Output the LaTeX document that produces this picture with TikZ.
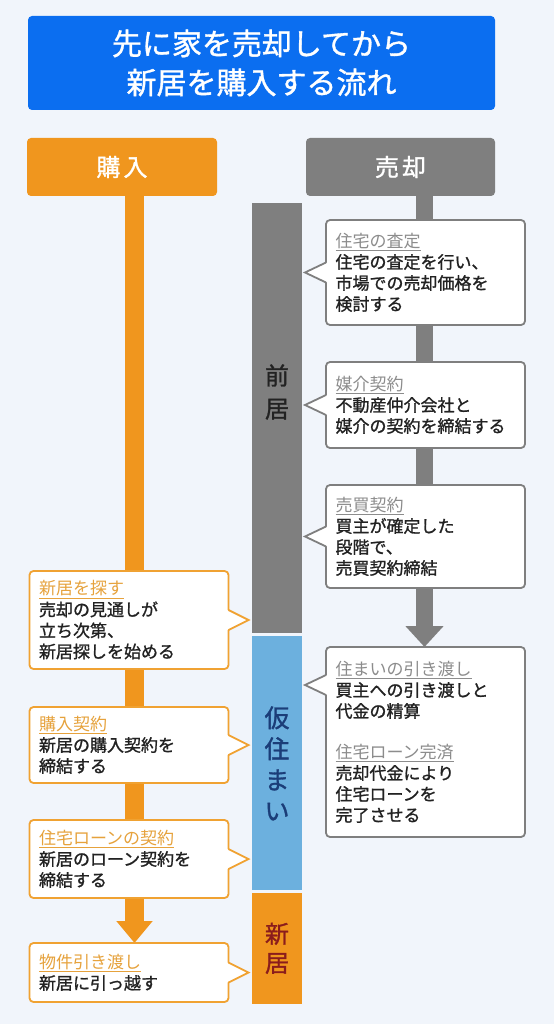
\documentclass[tikz,border=0pt]{standalone}
\usepackage{fontspec}
\setmainfont{Noto Sans CJK JP}[FakeBold=1.2]
\newfontfamily\plainJp{Noto Sans CJK JP}
\usepackage{tikz}
\usetikzlibrary{positioning,arrows.meta}
\definecolor{pageBg}{HTML}{F1F5FB}
\definecolor{titleBlue}{HTML}{0B6EF0}
\definecolor{buyOrange}{HTML}{F0961E}
\definecolor{sellGray}{HTML}{7F7F7F}
\definecolor{tempBlue}{HTML}{6CB0DE}
\definecolor{tempText}{HTML}{1B3D78}
\definecolor{newText}{HTML}{8A1C1C}
\definecolor{boxText}{HTML}{222222}
\definecolor{grayHead}{HTML}{8C8C8C}
\definecolor{orangeHead}{HTML}{E6A23C}
\definecolor{orangeLine}{HTML}{F0A232}
\pgfdeclarelayer{background}
\pgfsetlayers{background,main}
\tikzstyle{titleBox}=[rectangle, fill=titleBlue, rounded corners=4pt, minimum width=467pt, minimum height=94pt, text=white, align=center, font=\fontsize{30}{39}\selectfont]
\tikzstyle{header}=[rectangle, rounded corners=4pt, text=white, minimum width=190pt, minimum height=58pt, inner sep=0, font=\fontsize{24}{28}\selectfont]
\tikzstyle{period}=[rectangle, minimum width=50pt, inner sep=0, align=center]
\tikzstyle{sellBox}=[rectangle, draw=sellGray, line width=1.8pt, rounded corners=4pt, fill=white, text width=180pt, inner xsep=9.5pt, inner ysep=0, outer sep=0, align=left, text=boxText, font=\fontsize{17}{21}\selectfont]
\tikzstyle{buyBox}=[sellBox, draw=orangeLine]
\tikzstyle{sellEdge}=[draw=sellGray, line width=1.8pt]
\tikzstyle{buyEdge}=[draw=orangeLine, line width=1.8pt]
\tikzset{buyBar/.style={draw=buyOrange, line width=19pt, -{Triangle[width=35pt,length=22pt]}}}
\tikzset{sellBar/.style={draw=sellGray, line width=17pt, -{Triangle[width=37pt,length=21pt]}}}

\begin{document}
\begin{tikzpicture}[x=1pt,y=-1pt]
        \useasboundingbox (0,0) rectangle (554,1024);

        \node (title) [titleBox] at (261.5,63) {先に家を売却してから\\新居を購入する流れ};

        \node (buyHead) [header, fill=buyOrange] at (122,167) {購\hspace{3pt}入};
        \node (sellHead) [header, fill=sellGray, minimum width=189pt] at (400.5,167) {売\hspace{3pt}却};

        % periods
        \node (prevHome) [period, fill=sellGray, minimum height=430pt] at (277,418) {};
        \node (prevLabel) [align=center, text=boxText, font=\fontsize{24}{33}\selectfont] at ([yshift=26pt]prevHome.center) {前\\居};
        \node (tempHome) [period, fill=tempBlue, minimum height=254pt, below=3pt of prevHome, text=tempText, font=\fontsize{25}{31}\selectfont] {仮\\住\\ま\\い};
        \node (newHome) [period, fill=buyOrange, minimum height=111pt, below=2pt of tempHome, text=newText, font=\fontsize{24}{29}\selectfont] {新\\居};

        % selling side
        \node (appraisal) [sellBox, minimum height=105pt] at (425.5,272.5) {{\plainJp\color{grayHead}\underline{住宅の査定}}\\住宅の査定を行い、\\市場での売却価格を\\検討する};
        \node (agency) [sellBox, minimum height=86pt, below=37pt of appraisal] {{\plainJp\color{grayHead}\underline{媒介契約}}\\不動産仲介会社と\\媒介の契約を締結する};
        \node (saleContract) [sellBox, minimum height=103pt, below=37pt of agency] {{\plainJp\color{grayHead}\underline{売買契約}}\\買主が確定した\\段階で、\\売買契約締結};
        \node (handover) [sellBox, minimum height=190pt, below=59pt of saleContract] {{\plainJp\color{grayHead}\underline{住まいの引き渡し}}\\買主への引き渡しと\\代金の精算\\[20pt]{\plainJp\color{grayHead}\underline{住宅ローン完済}}\\売却代金により\\住宅ローンを\\完了させる};
        \coordinate (handoverPoint) at ([yshift=-38pt]handover.north west);

        % buying side
        \node (search) [buyBox, minimum height=98pt] at (129,620) {{\plainJp\color{orangeHead}\underline{新居を探す}}\\売却の見通しが\\立ち次第、\\新居探しを始める};
        \node (purchase) [buyBox, minimum height=76pt, below=38pt of search] {{\plainJp\color{orangeHead}\underline{購入契約}}\\新居の購入契約を\\締結する};
        \node (loan) [buyBox, minimum height=78pt, below=37pt of purchase] {{\plainJp\color{orangeHead}\underline{住宅ローンの契約}}\\新居のローン契約を\\締結する};
        \node (delivery) [buyBox, minimum height=59pt, below=45pt of loan] {{\plainJp\color{orangeHead}\underline{物件引き渡し}}\\新居に引っ越す};

        \coordinate (buyLine) at (134.5,0);
        \coordinate (sellLine) at (424.5,0);
        \begin{pgfonlayer}{background}
            \fill[pageBg] (0,0) rectangle (554,1024);
            \draw[buyBar] (buyHead.south -| buyLine) -- (delivery.north -| buyLine);
            \draw[sellBar] (sellHead.south -| sellLine) -- (handover.north -| sellLine);
        \end{pgfonlayer}

        \foreach \p in {appraisal.west, agency.west, saleContract.west, handoverPoint}{
            \fill[white] ([shift={(1.5pt,10pt)}]\p) -- ([xshift=-21pt]\p) -- ([shift={(1.5pt,-10pt)}]\p) -- cycle;
            \draw[sellEdge] ([yshift=10pt]\p) -- ([xshift=-21pt]\p) -- ([yshift=-10pt]\p);
        };
        \foreach \p in {search.east, purchase.east, loan.east, delivery.east}{
            \fill[white] ([shift={(-1.5pt,10pt)}]\p) -- ([xshift=20pt]\p) -- ([shift={(-1.5pt,-10pt)}]\p) -- cycle;
            \draw[buyEdge] ([yshift=10pt]\p) -- ([xshift=20pt]\p) -- ([yshift=-10pt]\p);
        };

    \end{tikzpicture}
\end{document}
